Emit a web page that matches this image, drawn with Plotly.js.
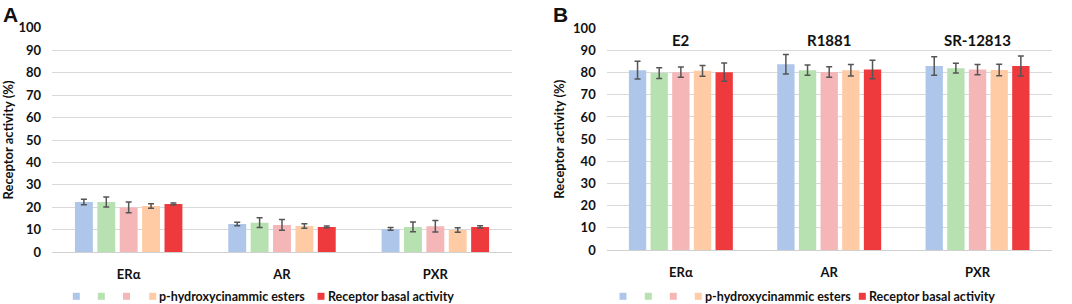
<!DOCTYPE html>
<html><head><meta charset="utf-8">
<script src="https://cdn.plot.ly/plotly-3.0.1.min.js"></script>
<style>html,body{margin:0;padding:0;background:#fff}#chart{width:1072px;height:304px}</style>
</head><body><div id="chart"></div>
<script>
// ---------- data ----------
const receptors = ['ERα', 'AR', 'PXR'];
const agonists = ['E2', 'R1881', 'SR-12813'];
const seriesNames = ['', '', '', 'p-hydroxycinammic esters', 'Receptor basal activity'];
const yAxisTitle = 'Receptor activity (%)';
const yTickValues = [0, 10, 20, 30, 40, 50, 60, 70, 80, 90, 100];

// Panel A (compounds alone)
const a1 = [22.4, 12.6, 10.4], a1Err = [1.2, 0.8, 0.6];
const a2 = [22.4, 13.2, 11.3], a2Err = [2.2, 2.2, 2.2];
const a3 = [20.0, 12.2, 11.6], a3Err = [2.4, 2.4, 2.6];
const a4 = [20.6, 11.7, 9.9],  a4Err = [1.0, 1.0, 1.0];
const a5 = [21.5, 11.3, 11.3], a5Err = [0.4, 0.4, 0.5];

// Panel B (with agonists)
const b1 = [81.1, 83.8, 83.0], b1Err = [4.0, 4.4, 4.2];
const b2 = [79.8, 81.1, 82.0], b2Err = [2.4, 2.3, 2.2];
const b3 = [80.2, 80.3, 81.4], b3Err = [2.3, 2.4, 2.3];
const b4 = [80.8, 81.1, 81.2], b4Err = [2.4, 2.6, 2.6];
const b5 = [80.2, 81.4, 83.0], b5Err = [4.1, 4.2, 4.5];

// ---------- styles ----------
const colors = ['#adc6e9', '#b8e1b1', '#f5b6b8', '#ffcba5', '#ee3a3d'];
const W = 1072, H = 304;
const px = x => x / W;
const py = y => 1 - y / H;
const FONT = 'Lato, "Liberation Sans", Arial, sans-serif';
const TXT = '#111111';
const boldFont = (size) => ({family: FONT, size: size, color: TXT, weight: 700});

const panelA = [[a1, a1Err], [a2, a2Err], [a3, a3Err], [a4, a4Err], [a5, a5Err]];
const panelB = [[b1, b1Err], [b2, b2Err], [b3, b3Err], [b4, b4Err], [b5, b5Err]];

function makeTraces(panel, xa, ya) {
  return panel.map(([vals, errs], i) => ({
    type: 'bar',
    x: receptors,
    y: vals,
    name: seriesNames[i],
    xaxis: xa, yaxis: ya,
    marker: {color: colors[i], line: {width: 0}},
    error_y: {type: 'data', array: errs, visible: true, color: '#555555', thickness: 1.5, width: 3},
    showlegend: false,
    hoverinfo: 'x+y'
  }));
}

const data = makeTraces(panelA, 'x', 'y').concat(makeTraces(panelB, 'x2', 'y2'));

function xAxis(domain) {
  return {
    domain: domain, type: 'category', showgrid: false,
    showline: true, linecolor: '#d0d0d0', linewidth: 1,
    ticks: '', ticklabelstandoff: 10,
    tickfont: boldFont(13),
    fixedrange: true
  };
}
function yAxis(domain, anchor, standoff) {
  return {
    domain: domain, anchor: anchor, range: [0, 100],
    tickvals: yTickValues, ticktext: yTickValues.map(String),
    showgrid: true, gridcolor: '#d9d9d9', gridwidth: 1,
    zeroline: false, showline: false, ticks: '', ticklabelstandoff: 10,
    tickfont: boldFont(13),
    title: {text: yAxisTitle, font: boldFont(13), standoff: standoff},
    fixedrange: true
  };
}

const annotations = [];
const shapes = [];

// panel letters
const letterFont = {family: '"Liberation Sans", Arial, sans-serif', size: 21, color: '#111', weight: 700};
annotations.push({text: 'A', xref: 'paper', yref: 'paper', x: px(1), y: py(1), xanchor: 'left', yanchor: 'top',
  showarrow: false, font: letterFont});
annotations.push({text: 'B', xref: 'paper', yref: 'paper', x: px(551), y: py(1), xanchor: 'left', yanchor: 'top',
  showarrow: false, font: letterFont});

// agonist labels over the panel B groups
agonists.forEach((a, i) => {
  annotations.push({text: a, xref: 'x2', yref: 'y2', x: receptors[i], y: 94.6, xanchor: 'center', yanchor: 'middle',
    showarrow: false, font: boldFont(15)});
});

// manual legends (compact spacing as in the reference)
function legend(squareCenters, textStarts, cy) {
  squareCenters.forEach((cx, i) => {
    shapes.push({type: 'rect', xref: 'paper', yref: 'paper',
      x0: px(cx - 3.5), x1: px(cx + 3.5), y0: py(cy + 3.5), y1: py(cy - 3.5),
      fillcolor: colors[i], line: {width: 0}});
    if (seriesNames[i]) {
      annotations.push({text: seriesNames[i], xref: 'paper', yref: 'paper', x: px(textStarts[i] - 2), y: py(cy),
        xanchor: 'left', yanchor: 'middle', showarrow: false,
        font: boldFont(12.5)});
    }
  });
}
legend([76.3, 101.3, 126.5, 152.7, 321], [0, 0, 0, 159.3, 328.3], 296.3);
legend([623, 648.3, 673.3, 698.3, 862.3], [0, 0, 0, 705, 869.3], 296.3);

const layout = {
  width: W, height: H,
  margin: {l: 0, r: 0, t: 0, b: 0},
  paper_bgcolor: '#ffffff', plot_bgcolor: '#ffffff',
  barmode: 'group', bargap: 0.27, bargroupgap: 0.2,
  showlegend: false,
  xaxis: xAxis([px(52), px(512)]),
  yaxis: yAxis([py(252.3), py(27.7)], 'x', 5),
  xaxis2: Object.assign(xAxis([px(606.7), px(1051.7)]), {anchor: 'y2'}),
  yaxis2: yAxis([py(250), py(28.3)], 'x2', 5),
  annotations: annotations,
  shapes: shapes,
  font: {family: FONT}
};

Plotly.newPlot('chart', data, layout, {displayModeBar: false, staticPlot: true});
</script>
</body></html>
